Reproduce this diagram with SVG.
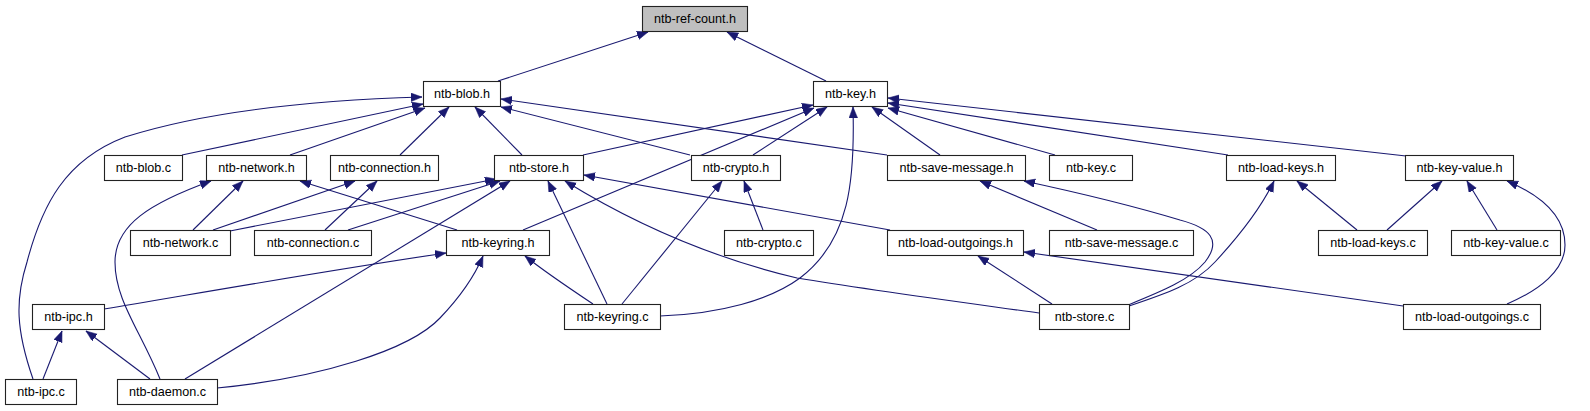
<svg xmlns="http://www.w3.org/2000/svg" width="1590" height="411" viewBox="0 0 1590 411">
<style>
.n rect{fill:#fff;stroke:#222;stroke-width:1.1}
.n.root rect{fill:#bfbfbf}
.n text{font-family:"Liberation Sans",Arial,sans-serif;font-size:12.6px;fill:#000;text-anchor:middle}
.e path{fill:none;stroke:#191970;stroke-width:1.1;marker-end:url(#ah)}
</style>
<defs>
<marker id="ah" markerUnits="userSpaceOnUse" markerWidth="12" markerHeight="10" refX="11" refY="4.3" orient="auto">
<path d="M0,0 L11,4.3 L0,8.6 z" fill="#191970" stroke="#191970" stroke-width="0.5"/>
</marker>
</defs>
<rect width="1590" height="411" fill="#fff"/>
<g id="connectors" class="e">
<path d="M498,81 L648,32"/>
<path d="M826,81 L727,32"/>
<path d="M33,379 C16,330 15,300 27,262 C42,205 65,160 125,137 C210,110 320,100 422,97"/>
<path d="M182,155 L423,104"/>
<path d="M290,155 L425,108"/>
<path d="M400,155 L449,107"/>
<path d="M522,155 L475,107"/>
<path d="M690,155 L501,107"/>
<path d="M887,155 L501,99"/>
<path d="M583,155 L813,105"/>
<path d="M523,230 L814,108"/>
<path d="M753,155 L827,107"/>
<path d="M660,316 C720,314 770,300 800,278 C850,240 855,180 853,107"/>
<path d="M940,155 L872,107"/>
<path d="M1055,155 L888,108"/>
<path d="M1228,155 L888,103"/>
<path d="M1406,156 L888,98"/>
<path d="M193,230 L243,181"/>
<path d="M213,230 L355,181"/>
<path d="M230,231 L496,179"/>
<path d="M325,230 L377,181"/>
<path d="M348,230 L500,181"/>
<path d="M160,379 C140,330 115,300 115,262 C115,225 150,203 211,181"/>
<path d="M457,230 L300,181"/>
<path d="M185,379 L510,181"/>
<path d="M607,304 L548,181"/>
<path d="M593,304 C575,292 540,268 525,256"/>
<path d="M622,304 L722,181"/>
<path d="M763,230 L744,181"/>
<path d="M890,230 L584,175"/>
<path d="M1039,313 C960,302 870,290 797,278 C700,255 620,215 565,181"/>
<path d="M1097,230 L980,181"/>
<path d="M1128,305 C1160,292 1190,280 1205,262 C1222,240 1210,228 1180,220 C1130,205 1080,193 1024,181"/>
<path d="M1129,306 C1165,294 1195,284 1215,262 C1240,235 1260,210 1274,181"/>
<path d="M1052,304 L978,256"/>
<path d="M1403,306 L1024,252"/>
<path d="M1357,230 L1297,181"/>
<path d="M1387,230 L1442,181"/>
<path d="M1497,230 L1467,181"/>
<path d="M1507,304 C1540,290 1565,270 1565,245 C1565,215 1540,195 1507,181"/>
<path d="M104,309 C200,293 330,270 446,253"/>
<path d="M217,388 C320,378 410,350 440,318 C462,295 475,275 483,256"/>
<path d="M43,379 L62,331"/>
<path d="M150,379 L86,331"/>
</g>
<g id="n-ref-count" class="n root"><rect x="642.5" y="6.5" width="105" height="25"/><text x="695" y="23.3">ntb-ref-count.h</text></g>
<g id="n-blob-h" class="n"><rect x="423.5" y="81.5" width="77" height="25"/><text x="462" y="98.3">ntb-blob.h</text></g>
<g id="n-key-h" class="n"><rect x="813.5" y="81.5" width="74" height="25"/><text x="850.5" y="98.3">ntb-key.h</text></g>
<g id="n-blob-c" class="n"><rect x="104.5" y="155.5" width="78" height="25"/><text x="143.5" y="172.3">ntb-blob.c</text></g>
<g id="n-network-h" class="n"><rect x="206.5" y="155.5" width="100" height="25"/><text x="256.5" y="172.3">ntb-network.h</text></g>
<g id="n-connection-h" class="n"><rect x="330.5" y="155.5" width="108" height="25"/><text x="384.5" y="172.3">ntb-connection.h</text></g>
<g id="n-store-h" class="n"><rect x="494.5" y="155.5" width="89" height="25"/><text x="539" y="172.3">ntb-store.h</text></g>
<g id="n-crypto-h" class="n"><rect x="691.5" y="155.5" width="89" height="25"/><text x="736" y="172.3">ntb-crypto.h</text></g>
<g id="n-save-message-h" class="n"><rect x="887.5" y="155.5" width="138" height="25"/><text x="956.5" y="172.3">ntb-save-message.h</text></g>
<g id="n-key-c" class="n"><rect x="1049.5" y="155.5" width="83" height="25"/><text x="1091" y="172.3">ntb-key.c</text></g>
<g id="n-load-keys-h" class="n"><rect x="1226.5" y="155.5" width="109" height="25"/><text x="1281" y="172.3">ntb-load-keys.h</text></g>
<g id="n-key-value-h" class="n"><rect x="1405.5" y="155.5" width="108" height="25"/><text x="1459.5" y="172.3">ntb-key-value.h</text></g>
<g id="n-network-c" class="n"><rect x="130.5" y="230.5" width="100" height="25"/><text x="180.5" y="247.3">ntb-network.c</text></g>
<g id="n-connection-c" class="n"><rect x="254.5" y="230.5" width="117" height="25"/><text x="313" y="247.3">ntb-connection.c</text></g>
<g id="n-keyring-h" class="n"><rect x="446.5" y="230.5" width="103" height="25"/><text x="498" y="247.3">ntb-keyring.h</text></g>
<g id="n-crypto-c" class="n"><rect x="724.5" y="230.5" width="89" height="25"/><text x="769" y="247.3">ntb-crypto.c</text></g>
<g id="n-load-outgoings-h" class="n"><rect x="887.5" y="230.5" width="136" height="25"/><text x="955.5" y="247.3">ntb-load-outgoings.h</text></g>
<g id="n-save-message-c" class="n"><rect x="1049.5" y="230.5" width="144" height="25"/><text x="1121.5" y="247.3">ntb-save-message.c</text></g>
<g id="n-load-keys-c" class="n"><rect x="1318.5" y="230.5" width="109" height="25"/><text x="1373" y="247.3">ntb-load-keys.c</text></g>
<g id="n-key-value-c" class="n"><rect x="1451.5" y="230.5" width="109" height="25"/><text x="1506" y="247.3">ntb-key-value.c</text></g>
<g id="n-ipc-h" class="n"><rect x="32.5" y="304.5" width="72" height="25"/><text x="68.5" y="321.3">ntb-ipc.h</text></g>
<g id="n-keyring-c" class="n"><rect x="564.5" y="304.5" width="96" height="25"/><text x="612.5" y="321.3">ntb-keyring.c</text></g>
<g id="n-store-c" class="n"><rect x="1039.5" y="304.5" width="90" height="25"/><text x="1084.5" y="321.3">ntb-store.c</text></g>
<g id="n-load-outgoings-c" class="n"><rect x="1403.5" y="304.5" width="137" height="25"/><text x="1472" y="321.3">ntb-load-outgoings.c</text></g>
<g id="n-ipc-c" class="n"><rect x="5.5" y="379.5" width="71" height="25"/><text x="41" y="396.3">ntb-ipc.c</text></g>
<g id="n-daemon-c" class="n"><rect x="117.5" y="379.5" width="100" height="25"/><text x="167.5" y="396.3">ntb-daemon.c</text></g>
</svg>
